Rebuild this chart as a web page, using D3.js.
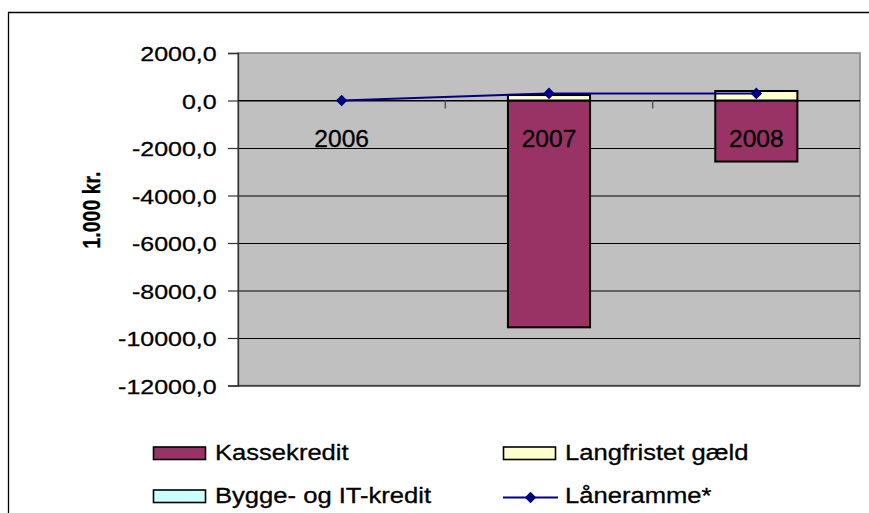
<!DOCTYPE html>
<html>
<head>
<meta charset="utf-8">
<script src="https://cdn.jsdelivr.net/npm/d3@7"></script>
<style>
  html, body { margin: 0; background: #fff; overflow: hidden; }
  svg { display: block; }
  text { font-family: "Liberation Sans", Arial, sans-serif; fill: #000; stroke: #000; stroke-width: 0.3px; }
</style>
</head>
<body>
<svg id="chart" width="869" height="513"></svg>
<script>
// data (1.000 kr.)
const years = ["2006", "2007", "2008"];
const kassekredit = [0, -9550, -2570];
const langfristet = [0, 230, 400];
const byggeIT = [0, 0, 0];
const laaneramme = [0, 300, 300];
const yTicks = [2000, 0, -2000, -4000, -6000, -8000, -10000, -12000];

const seriesNames = ["Kassekredit", "Langfristet gæld", "Bygge- og IT-kredit"];
const seriesColors = ["#993366", "#FFFFCC", "#CCFFFF"];

const svg = d3.select("#chart");

// danish number format, e.g. -2000,0
const da = d3.formatLocale({ decimal: ",", thousands: ".", grouping: [3], currency: ["", " kr."], minus: "-" });
const fmt = da.format(".1f");

const plot = { left: 238, right: 860, top: 53, bottom: 385.5 };

//the original picture is a bit wider than tall, so text is stretched sideways
const stretch = 1.19;

// outer chart frame, only top and left edge are in the picture
svg.append("path")
  .attr("d", "M8.5,513 V12.5 H869")
  .attr("fill", "none").attr("stroke", "#000").attr("stroke-width", 1.3);

const x = d3.scaleBand().domain(years).range([plot.left, plot.right]).padding(0);
const y = d3.scaleLinear().domain([-12000, 2000]).range([plot.bottom, plot.top]);
const barW = x.bandwidth() * 0.396;

// plot area
svg.append("rect")
  .attr("x", plot.left).attr("y", plot.top)
  .attr("width", plot.right - plot.left).attr("height", plot.bottom - plot.top)
  .attr("fill", "#C0C0C0").attr("stroke", "#808080").attr("stroke-width", 1.5);

// gridlines
svg.append("g")
  .attr("transform", `translate(${plot.left},0)`)
  .call(d3.axisLeft(y).tickValues(yTicks.filter(t => t < 2000)).tickSize(-(plot.right - plot.left)).tickFormat(""))
  .call(g => g.select(".domain").remove())
  .call(g => g.selectAll("line").attr("stroke", "#000").attr("stroke-width", 1));

// value axis
const yAxis = svg.append("g")
  .attr("transform", `translate(${plot.left},0)`)
  .call(d3.axisLeft(y).tickValues(yTicks).tickSize(10).tickFormat(fmt));
yAxis.select(".domain").attr("stroke", "#333").attr("stroke-width", 1.3);
yAxis.selectAll(".tick line").attr("stroke", "#333").attr("stroke-width", 1.2);
yAxis.selectAll(".tick text")
  .attr("x", -21.3 / stretch).attr("y", 7.6).attr("dy", null)
  .attr("transform", `scale(${stretch},1)`)
  .style("font-size", "21px")
  .attr("font-family", null)
  .attr("fill", null);

// stacked bars (negatives go down, positives up)
const table = years.map((yr, i) => ({
  year: yr,
  "Kassekredit": kassekredit[i],
  "Langfristet gæld": langfristet[i],
  "Bygge- og IT-kredit": byggeIT[i]
}));
const stacked = d3.stack().keys(seriesNames).offset(d3.stackOffsetDiverging)(table);

svg.append("g")
  .selectAll("g")
  .data(stacked)
  .join("g")
  .attr("fill", (s, i) => seriesColors[i])
  .selectAll("rect")
  .data(s => s.filter(d => d[1] !== d[0]))
  .join("rect")
  .attr("x", d => x(d.data.year) + (x.bandwidth() - barW) / 2)
  .attr("y", d => y(Math.max(d[0], d[1])))
  .attr("width", barW)
  .attr("height", d => Math.abs(y(d[0]) - y(d[1])))
  .attr("stroke", "#000")
  .attr("stroke-width", 2);

// category axis at 0
svg.append("line")
  .attr("x1", plot.left).attr("x2", plot.right)
  .attr("y1", y(0)).attr("y2", y(0))
  .attr("stroke", "#000").attr("stroke-width", 1.2);
svg.append("g")
  .selectAll("line")
  .data(years.slice(1))
  .join("line")
  .attr("x1", d => x(d)).attr("x2", d => x(d))
  .attr("y1", y(0)).attr("y2", y(0) + 8)
  .attr("stroke", "#555").attr("stroke-width", 1.5);

// category labels
svg.append("g")
  .selectAll("text")
  .data(years)
  .join("text")
  .attr("transform", d => `translate(${x(d) + x.bandwidth() / 2},147) scale(1.07,1)`)
  .attr("text-anchor", "middle")
  .style("font-size", "23px")
  .text(d => d);

// Låneramme line
const line = d3.line()
  .x((d, i) => x(years[i]) + x.bandwidth() / 2)
  .y(d => y(d));
svg.append("path")
  .datum(laaneramme)
  .attr("d", line)
  .attr("fill", "none")
  .attr("stroke", "#000080")
  .attr("stroke-width", 2);
const diamond = d3.symbol().type(d3.symbolDiamond2).size(85);
svg.append("g")
  .selectAll("path")
  .data(laaneramme)
  .join("path")
  .attr("transform", (d, i) => `translate(${x(years[i]) + x.bandwidth() / 2},${y(d)})`)
  .attr("d", diamond)
  .attr("fill", "#000080");

// y axis title
svg.append("text")
  .attr("transform", `translate(100,210) scale(${stretch},1) rotate(-90)`)
  .attr("text-anchor", "middle")
  .style("font-size", "19.5px")
  .style("font-weight", "bold")
  .text("1.000 kr.");

// legend
const legendItems = [
  { name: "Kassekredit", color: seriesColors[0], type: "box", x: 153, y: 447 },
  { name: "Langfristet gæld", color: seriesColors[1], type: "box", x: 503, y: 447 },
  { name: "Bygge- og IT-kredit", color: seriesColors[2], type: "box", x: 153, y: 490 },
  { name: "Låneramme*", color: "#000080", type: "line", x: 503, y: 490 }
];
const legend = svg.append("g")
  .selectAll("g")
  .data(legendItems)
  .join("g")
  .attr("transform", d => `translate(${d.x},${d.y})`);

legend.filter(d => d.type === "box")
  .append("rect")
  .attr("x", 0.5).attr("y", 0)
  .attr("width", 52).attr("height", 12.5)
  .attr("fill", d => d.color)
  .attr("stroke", "#000").attr("stroke-width", 1.6);

const lineItem = legend.filter(d => d.type === "line");
lineItem.append("line")
  .attr("x1", 0).attr("x2", 55)
  .attr("y1", 7.5).attr("y2", 7.5)
  .attr("stroke", d => d.color).attr("stroke-width", 2);
lineItem.append("path")
  .attr("transform", "translate(27.5,7.5)")
  .attr("d", diamond)
  .attr("fill", d => d.color);

legend.append("text")
  .attr("transform", `translate(62,12.5) scale(${stretch},1)`)
  .style("font-size", "21.5px")
  .text(d => d.name);
</script>
</body>
</html>
